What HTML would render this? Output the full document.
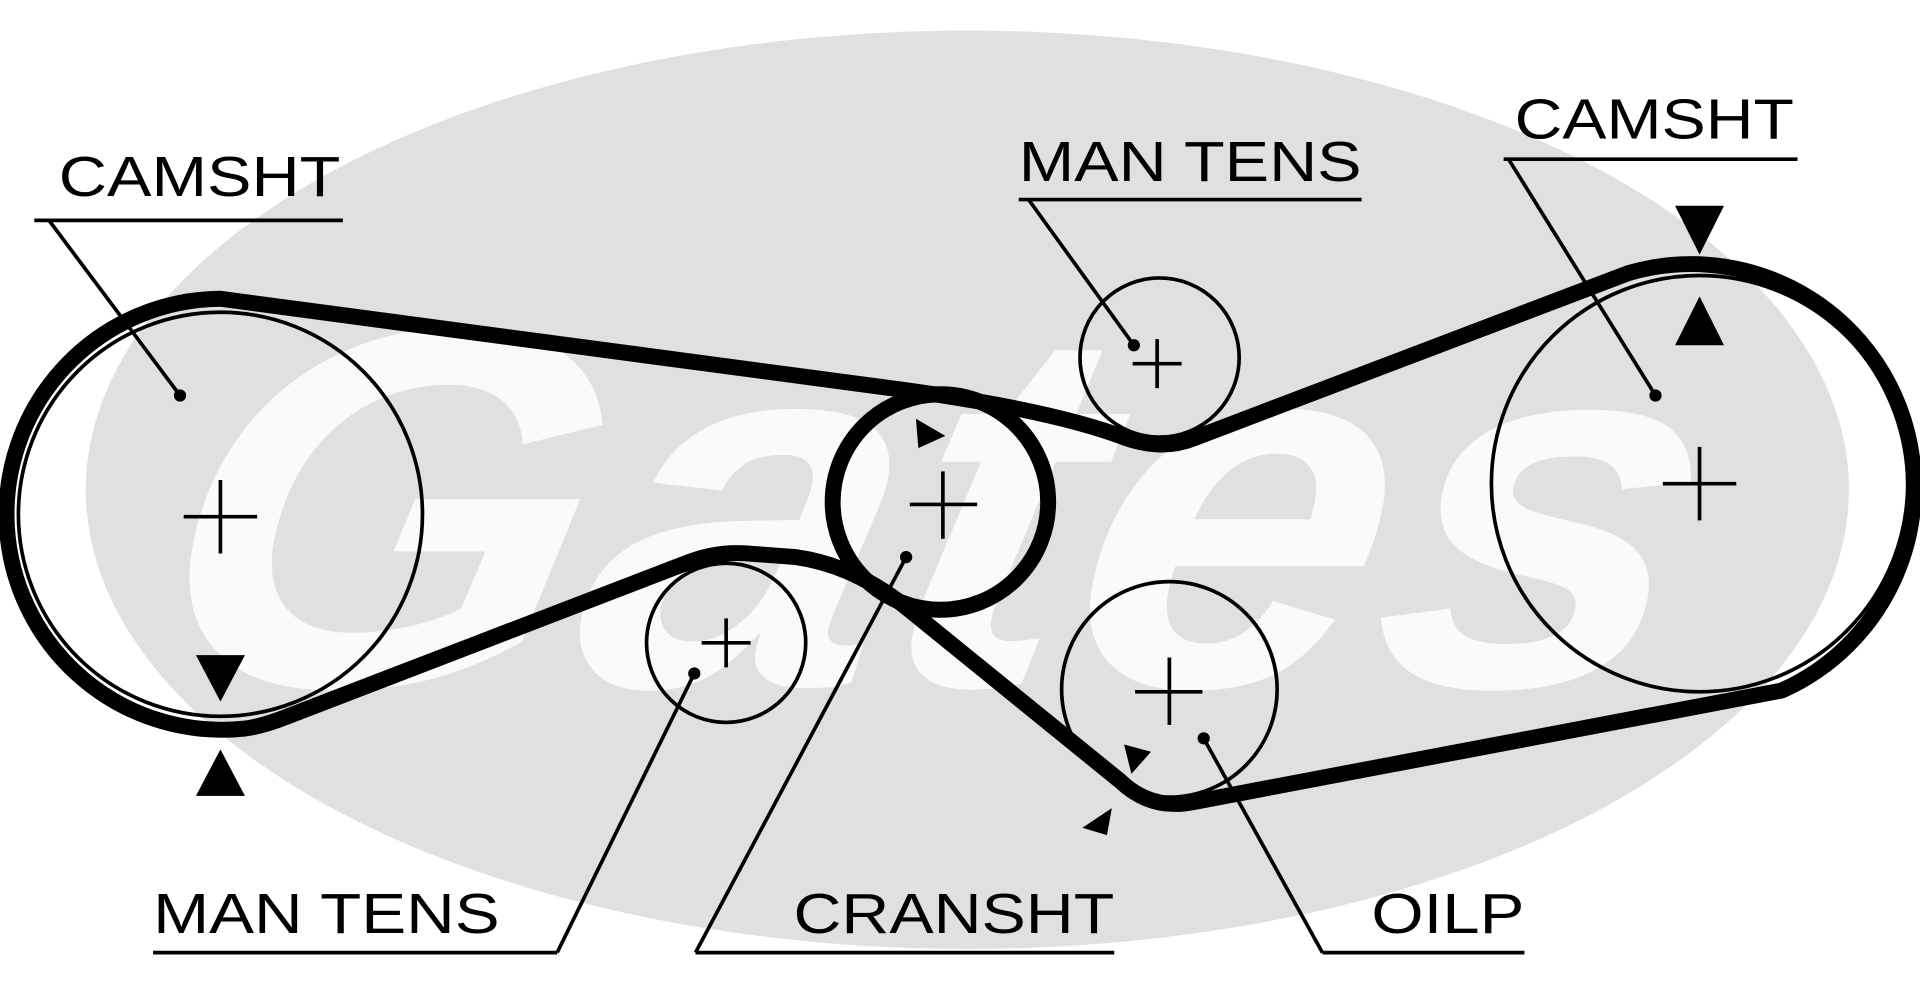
<!DOCTYPE html>
<html><head><meta charset="utf-8"><style>
html,body{margin:0;padding:0;background:#fff;width:1920px;height:982px;overflow:hidden}
svg{display:block}
text{font-family:"Liberation Sans",sans-serif}
</style></head><body>
<svg width="1920" height="982" viewBox="0 0 1568 802" xmlns="http://www.w3.org/2000/svg">
<ellipse cx="790" cy="400" rx="720" ry="375" fill="#e0e0e0"/>
<text x="230" y="560" font-size="420" font-style="italic" font-weight="bold" fill="#fafafa" transform="skewX(-12)" textLength="1250" lengthAdjust="spacingAndGlyphs">Gates</text>
<g fill="none" stroke="#000">
<circle cx="180" cy="420" r="165" stroke-width="3"/>
<circle cx="1388" cy="395" r="170" stroke-width="3"/>
<circle cx="947" cy="292" r="65" stroke-width="3"/>
<circle cx="593" cy="525" r="65" stroke-width="3"/>
<circle cx="955" cy="563" r="88" stroke-width="3"/>
<circle cx="768" cy="410" r="88" stroke-width="13"/>
<path d="M180 244 L735 318 Q860 335 920 358 Q950 368 975 358 L1330 223 A182 182 0 0 1 1455 564 L975 655 Q940 662 915 638 L745 500 Q700 462 650 455 L610 452 Q585 450 560 460 L235 585 Q215 593 200 595 A176 176 0 1 1 180 244 Z" stroke-width="13" stroke-linejoin="round"/>
<g stroke-width="3">
<path d="M150 422h60M180 392v60"/>
<path d="M1358 395h60M1388 365v60"/>
<path d="M925 297h40M945 277v40"/>
<path d="M573 525h40M593 505v40"/>
<path d="M927 565h55M955 537v55"/>
<path d="M743 412h55M770 385v55"/>
<path d="M28 180h252M40 180L147 323"/>
<path d="M1228 130h240M1232 130L1352 323"/>
<path d="M832 163h280M840 163L926 282"/>
<path d="M125 778h330M455 778L567 550"/>
<path d="M568 778h342M568 778L740 455"/>
<path d="M1080 778h165M1080 778L983 603"/>
</g>
</g>
<g fill="#000">
<circle cx="147" cy="323" r="5"/><circle cx="1352" cy="323" r="5"/>
<circle cx="926" cy="282" r="5"/><circle cx="567" cy="550" r="5"/>
<circle cx="740" cy="455" r="5"/><circle cx="983" cy="603" r="5"/>
<path d="M160 535h40l-20 38z"/><path d="M160 650h40l-20-38z"/>
<path d="M1368 168h40l-20 40z"/><path d="M1368 282h40l-20-40z"/>
<path d="M748 342l24 14-22 10z"/>
<path d="M918 608l22 6-16 18z"/>
<path d="M908 660l-4 22-20-6z"/>
</g>
<g font-size="46" fill="#000">
<text x="48" y="160" textLength="230" lengthAdjust="spacingAndGlyphs">CAMSHT</text>
<text x="1237" y="113" textLength="228" lengthAdjust="spacingAndGlyphs">CAMSHT</text>
<text x="832" y="148" textLength="280" lengthAdjust="spacingAndGlyphs">MAN TENS</text>
<text x="125" y="762" textLength="283" lengthAdjust="spacingAndGlyphs">MAN TENS</text>
<text x="648" y="762" textLength="262" lengthAdjust="spacingAndGlyphs">CRANSHT</text>
<text x="1120" y="762" textLength="125" lengthAdjust="spacingAndGlyphs">OILP</text>
</g>
</svg>
</body></html>
